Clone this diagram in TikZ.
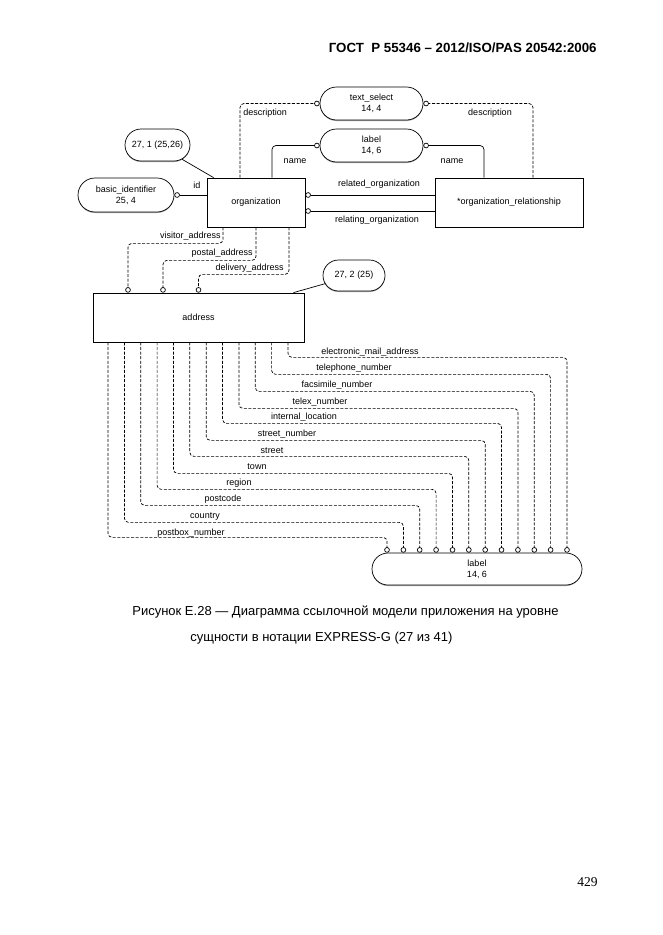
\documentclass[tikz,border=0pt]{standalone}
\usepackage{fontspec}
\setmainfont{Liberation Sans}
\newfontfamily\pagenumfont{Liberation Serif}
\usepackage{tikz}
\usetikzlibrary{shapes.misc,arrows.meta,shadows,calc}

\begin{document}
\begin{tikzpicture}[x=1pt, y=-1pt, line width=0.7pt,
        every node/.style={font=\fontsize{9}{11}\selectfont, align=center, inner sep=1pt},
        entity/.style={draw, fill=white, drop shadow={shadow xshift=0pt, shadow yshift=-1pt, fill=gray!70, opacity=1}},
        bubble/.style={entity, rounded rectangle},
        rel/.style={rounded corners=4pt, -{Circle[open, length=5.5pt, width=5.5pt, sharp]}},
        opt/.style={rel, dash pattern=on 3pt off 1.6pt}]
        \useasboundingbox (0,0) rectangle (662,935);

        % page header
        \node[anchor=east, font=\bfseries\fontsize{13.3}{16}\selectfont] (header) at (598,48)
            {ГОСТ\ \ Р 55346 – 2012/ISO/PAS 20542:2006};

        % entities and types
        \node[entity, minimum width=98pt, minimum height=49pt] (org) at (256,202.5) {organization};
        \node[entity, minimum width=148pt, minimum height=49pt] (orgrel) at (509,202.5)
            {*organization\_relationship};
        \node[bubble, minimum width=105pt, minimum height=33pt] (txtsel) at (371.5,103.5) {text\_select\\14, 4};
        \node[bubble, minimum width=105pt, minimum height=33pt] (lblname) at (371.5,145.5) {label\\14, 6};
        \node[bubble, minimum width=67pt, minimum height=32pt] (ref1) at (157.5,145) {27, 1 (25,26)};
        \node[bubble, minimum width=98pt, minimum height=34pt] (basicid) at (126,195) {basic\_identifier\\25, 4};
        \node[entity, minimum width=211pt, minimum height=49pt] (address) at (198.5,317.5) {address};
        \node[bubble, minimum width=64pt, minimum height=31pt] (ref2) at (354,275.5) {27, 2 (25)};
        \node[bubble, minimum width=212pt, minimum height=32pt] (lbladdr) at (477,569) {label\\14, 6};

        % organization attributes
        \draw[opt] ([xshift=-16pt]org.north) |- (txtsel.west);
        \node[anchor=west] (ldesc1) at (242,113) {description};
        \draw[opt] ([xshift=24pt]orgrel.north) |- (txtsel.east);
        \node (ldesc2) at (490,113) {description};
        \draw[rel] ([xshift=16pt]org.north) |- (lblname.west);
        \node (lname1) at (295,161) {name};
        \draw[rel] ([xshift=-25pt]orgrel.north) |- (lblname.east);
        \node (lname2) at (452,161) {name};
        \draw[rel] ([yshift=7.5pt]orgrel.west) -- ([yshift=7.5pt]org.east);
        \node (lrelated) at (379,184) {related\_organization};
        \draw[rel] ([yshift=-8.5pt]orgrel.west) -- ([yshift=-8.5pt]org.east);
        \node (lrelating) at (377,220) {relating\_organization};
        \draw[rel] ([yshift=7.5pt]org.west) -- (basicid.east);
        \node (lid) at (197,185) {id};
        \draw (ref1) -- ([xshift=7pt]org.north west);

        % addresses
        \draw[opt] ([xshift=-33pt]org.south) -- ++(0,16) -| ([xshift=-70.5pt]address.north);
        \node[anchor=east] (lvisitor) at (222,236) {visitor\_address};
        \draw[opt] (org.south) -- ++(0,33) -| ([xshift=-35.5pt]address.north);
        \node[anchor=east] (lpostal) at (254,253) {postal\_address};
        \draw[opt] ([xshift=33pt]org.south) -- ++(0,47) -| (address.north);
        \node[anchor=east] (ldelivery) at (285,268) {delivery\_address};
        \draw (ref2) -- ([xshift=-11pt]address.north east);

        % address attributes
        \draw[opt] ([xshift=-90.5pt]address.south) -- ++(0,195) -| ([xshift=-90pt]lbladdr.north);
        \node (lpostbox) at (191,533) {postbox\_number};
        \draw[opt] ([xshift=-74.1pt]address.south) -- ++(0,180) -| ([xshift=-73.6pt]lbladdr.north);
        \node (lcountry) at (205,517) {country};
        \draw[opt] ([xshift=-57.8pt]address.south) -- ++(0,163) -| ([xshift=-57.3pt]lbladdr.north);
        \node (lpostcode) at (223,499) {postcode};
        \draw[opt] ([xshift=-41.4pt]address.south) -- ++(0,147) -| ([xshift=-40.9pt]lbladdr.north);
        \node (lregion) at (239,483) {region};
        \draw[opt] ([xshift=-25.1pt]address.south) -- ++(0,131) -| ([xshift=-24.5pt]lbladdr.north);
        \node (ltown) at (257,467) {town};
        \draw[opt] ([xshift=-8.7pt]address.south) -- ++(0,114) -| ([xshift=-8.2pt]lbladdr.north);
        \node (lstreet) at (272,451) {street};
        \draw[opt] ([xshift=7.7pt]address.south) -- ++(0,98) -| ([xshift=8.2pt]lbladdr.north);
        \node (lstreetno) at (287,434) {street\_number};
        \draw[opt] ([xshift=24pt]address.south) -- ++(0,81) -| ([xshift=24.5pt]lbladdr.north);
        \node (linternal) at (304,417) {internal\_location};
        \draw[opt] ([xshift=40.4pt]address.south) -- ++(0,66) -| ([xshift=40.9pt]lbladdr.north);
        \node (ltelex) at (320,402) {telex\_number};
        \draw[opt] ([xshift=56.7pt]address.south) -- ++(0,49) -| ([xshift=57.3pt]lbladdr.north);
        \node (lfax) at (337,385) {facsimile\_number};
        \draw[opt] ([xshift=73.1pt]address.south) -- ++(0,32) -| ([xshift=73.6pt]lbladdr.north);
        \node (lphone) at (354,368) {telephone\_number};
        \draw[opt] ([xshift=89.5pt]address.south) -- ++(0,15) -| ([xshift=90pt]lbladdr.north);
        \node (lemail) at (370,352) {electronic\_mail\_address};

        % caption and page number
        \node[anchor=west, font=\fontsize{13}{16}\selectfont] (cap1) at (131,612)
            {Рисунок Е.28 — Диаграмма ссылочной модели приложения на уровне};
        \node[anchor=west, font=\fontsize{13}{16}\selectfont] (cap2) at (189,638)
            {сущности в нотации EXPRESS-G (27 из 41)};
        \node[anchor=east, font=\pagenumfont\fontsize{13.5}{16}\selectfont] (pagenum) at (599,882) {429};
    \end{tikzpicture}
\end{document}
